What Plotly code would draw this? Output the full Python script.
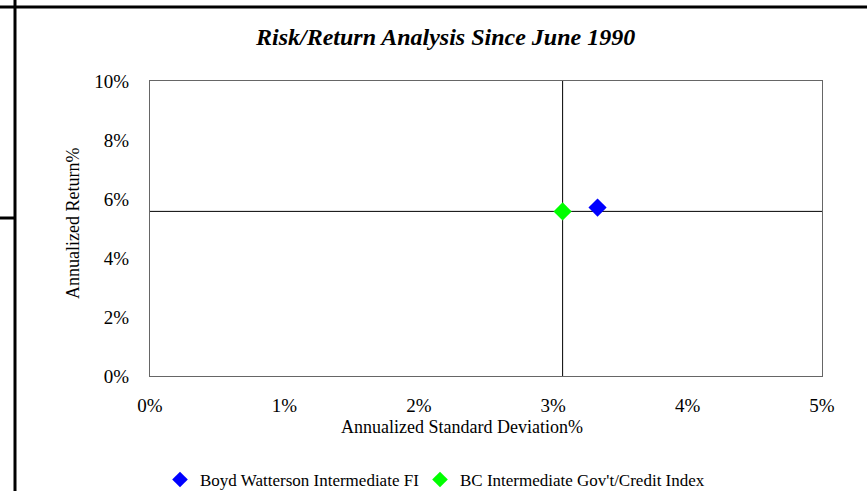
import plotly.graph_objects as go

# ---- data ----
series_names = ["Boyd Watterson Intermediate FI", "BC Intermediate Gov't/Credit Index"]
std_dev = [0.0333, 0.0307]          # annualized standard deviation
ann_return = [0.0571, 0.0558]       # annualized return
colors = ["#0000FF", "#00FF00"]
x_ticks = [0.0, 0.01, 0.02, 0.03, 0.04, 0.05]
y_ticks = [0.0, 0.02, 0.04, 0.06, 0.08, 0.10]
benchmark_idx = 1                   # crosshair through the index

FONT = '"Liberation Serif", "Times New Roman", Times, serif'
W, H = 867, 491
L, R, T, B = 150, 45, 81, 115
PW, PH = W - L - R, H - T - B


def px_x(p):
    return (p - L) / PW


def px_y(p):
    return (H - B - p) / PH


fig = go.Figure()

# crosshair through benchmark
bx, by = std_dev[benchmark_idx], ann_return[benchmark_idx]
fig.add_trace(go.Scatter(x=[bx, bx], y=[y_ticks[0], y_ticks[-1]], mode="lines",
                         line=dict(color="black", width=1), showlegend=False, hoverinfo="skip"))
fig.add_trace(go.Scatter(x=[x_ticks[0], x_ticks[-1]], y=[by, by], mode="lines",
                         line=dict(color="black", width=1), showlegend=False, hoverinfo="skip"))

legend_ids = ["legend", "legend2"]
for name, sx, ry, c, lg in zip(series_names, std_dev, ann_return, colors, legend_ids):
    fig.add_trace(go.Scatter(x=[sx], y=[ry], mode="markers", name=name, legend=lg,
                             marker=dict(symbol="diamond", size=14, color=c,
                                         line=dict(width=0))))

legend_common = dict(orientation="h", xanchor="left", yanchor="middle",
                     font=dict(family=FONT, size=17), itemsizing="constant",
                     bgcolor="rgba(0,0,0,0)", borderwidth=0)

fig.update_layout(
    width=W, height=H,
    margin=dict(l=L, r=R, t=T, b=B, autoexpand=False),
    paper_bgcolor="white", plot_bgcolor="white",
    font=dict(family=FONT, color="black", size=19),
    showlegend=True,
    legend=dict(x=px_x(160), y=px_y(480), **legend_common),
    legend2=dict(x=px_x(420), y=px_y(480), **legend_common),
)

fig.update_xaxes(range=[x_ticks[0], x_ticks[-1]], tickvals=x_ticks, tickformat=".0%",
                 showgrid=False, zeroline=False, showline=True, mirror=True,
                 linecolor="#666666", linewidth=1, ticks="outside", ticklen=12,
                 tickcolor="rgba(0,0,0,0)", tickfont=dict(size=19))
fig.update_yaxes(range=[y_ticks[0], y_ticks[-1]], tickvals=y_ticks, tickformat=".0%",
                 showgrid=False, zeroline=False, showline=True, mirror=True,
                 linecolor="#666666", linewidth=1, ticks="outside", ticklen=16,
                 tickcolor="rgba(0,0,0,0)", tickfont=dict(size=19))

annotations = [
    dict(text="<b><i>Risk/Return Analysis Since June 1990</i></b>", x=px_x(445), y=px_y(37),
         xref="paper", yref="paper", showarrow=False, font=dict(family=FONT, size=24),
         xanchor="center", yanchor="middle"),
    dict(text="Annualized Standard Deviation%", x=px_x(462), y=px_y(427),
         xref="paper", yref="paper", showarrow=False, font=dict(family=FONT, size=18),
         xanchor="center", yanchor="middle"),
    dict(text="Annualized Return%", x=px_x(73), y=px_y(224), textangle=-90,
         xref="paper", yref="paper", showarrow=False, font=dict(family=FONT, size=18),
         xanchor="center", yanchor="middle"),
]
fig.update_layout(annotations=annotations)

# frame decoration lines
shapes = [
    dict(type="line", xref="paper", yref="paper", x0=px_x(15), x1=px_x(15), y0=px_y(0), y1=px_y(H),
         line=dict(color="black", width=3)),
    dict(type="line", xref="paper", yref="paper", x0=px_x(0), x1=px_x(W), y0=px_y(7), y1=px_y(7),
         line=dict(color="black", width=3)),
    dict(type="line", xref="paper", yref="paper", x0=px_x(0), x1=px_x(15), y0=px_y(218), y1=px_y(218),
         line=dict(color="black", width=3)),
]
fig.update_layout(shapes=shapes)

fig.write_html("out.html", config={"displayModeBar": False},
               post_script="document.body.style.margin='0';")
